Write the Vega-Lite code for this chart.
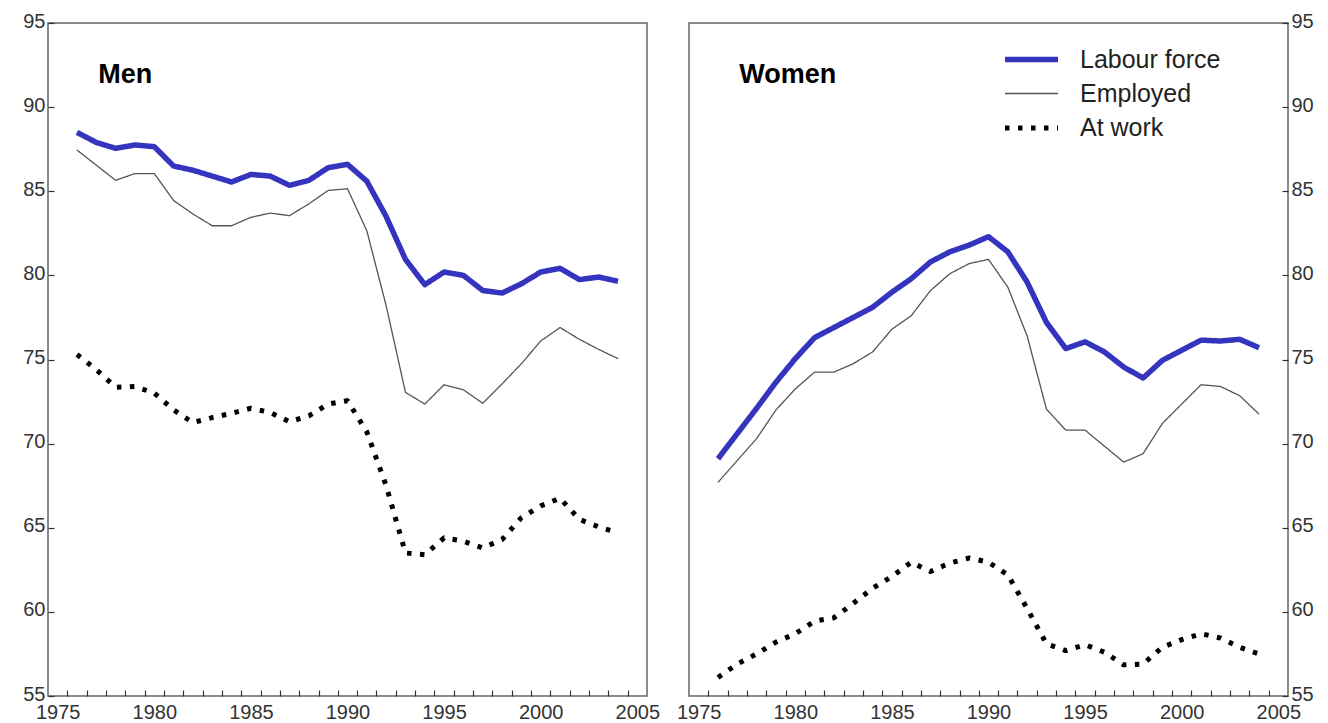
{
  "$schema": "https://vega.github.io/schema/vega-lite/v6.json",
  "padding": {"left": 22, "top": 10, "right": 5, "bottom": 0},
  "background": "white",
  "bounds": "flush",
  "spacing": 42,
  "config": {
    "font": "Liberation Sans",
    "view": {"stroke": "#666666", "strokeWidth": 1.5},
    "axis": {"domain": false, "grid": false, "labelFontSize": 20, "labelColor": "#333333", "tickColor": "#333333", "tickSize": -6, "tickWidth": 1.2, "labelPadding": 9, "title": null, "labelOverlap": false},
    "legend": {"orient": "none", "legendX": 954, "legendY": 23.5, "title": null, "padding": 0, "symbolType": "M-1,0H4.3", "symbolSize": 400, "labelFontSize": 25, "labelColor": "#222222", "labelOffset": 52, "rowPadding": 8.5, "labelLimit": 300}
  },
  "datasets": {
    "d": [
      {"sex":"Men","series":"Labour force","year":1976,"value":88.5},
      {"sex":"Men","series":"Labour force","year":1977,"value":87.9},
      {"sex":"Men","series":"Labour force","year":1978,"value":87.55},
      {"sex":"Men","series":"Labour force","year":1979,"value":87.75},
      {"sex":"Men","series":"Labour force","year":1980,"value":87.65},
      {"sex":"Men","series":"Labour force","year":1981,"value":86.5},
      {"sex":"Men","series":"Labour force","year":1982,"value":86.25},
      {"sex":"Men","series":"Labour force","year":1983,"value":85.9},
      {"sex":"Men","series":"Labour force","year":1984,"value":85.55},
      {"sex":"Men","series":"Labour force","year":1985,"value":86.0},
      {"sex":"Men","series":"Labour force","year":1986,"value":85.9},
      {"sex":"Men","series":"Labour force","year":1987,"value":85.35},
      {"sex":"Men","series":"Labour force","year":1988,"value":85.65},
      {"sex":"Men","series":"Labour force","year":1989,"value":86.4},
      {"sex":"Men","series":"Labour force","year":1990,"value":86.6},
      {"sex":"Men","series":"Labour force","year":1991,"value":85.6},
      {"sex":"Men","series":"Labour force","year":1992,"value":83.5},
      {"sex":"Men","series":"Labour force","year":1993,"value":80.95},
      {"sex":"Men","series":"Labour force","year":1994,"value":79.45},
      {"sex":"Men","series":"Labour force","year":1995,"value":80.2},
      {"sex":"Men","series":"Labour force","year":1996,"value":80.0},
      {"sex":"Men","series":"Labour force","year":1997,"value":79.1},
      {"sex":"Men","series":"Labour force","year":1998,"value":78.95},
      {"sex":"Men","series":"Labour force","year":1999,"value":79.5},
      {"sex":"Men","series":"Labour force","year":2000,"value":80.2},
      {"sex":"Men","series":"Labour force","year":2001,"value":80.42},
      {"sex":"Men","series":"Labour force","year":2002,"value":79.75},
      {"sex":"Men","series":"Labour force","year":2003,"value":79.9},
      {"sex":"Men","series":"Labour force","year":2004,"value":79.65},
      {"sex":"Men","series":"Employed","year":1976,"value":87.45},
      {"sex":"Men","series":"Employed","year":1977,"value":86.55},
      {"sex":"Men","series":"Employed","year":1978,"value":85.65},
      {"sex":"Men","series":"Employed","year":1979,"value":86.05},
      {"sex":"Men","series":"Employed","year":1980,"value":86.05},
      {"sex":"Men","series":"Employed","year":1981,"value":84.45},
      {"sex":"Men","series":"Employed","year":1982,"value":83.65},
      {"sex":"Men","series":"Employed","year":1983,"value":82.95},
      {"sex":"Men","series":"Employed","year":1984,"value":82.95},
      {"sex":"Men","series":"Employed","year":1985,"value":83.45},
      {"sex":"Men","series":"Employed","year":1986,"value":83.7},
      {"sex":"Men","series":"Employed","year":1987,"value":83.55},
      {"sex":"Men","series":"Employed","year":1988,"value":84.25},
      {"sex":"Men","series":"Employed","year":1989,"value":85.05},
      {"sex":"Men","series":"Employed","year":1990,"value":85.15},
      {"sex":"Men","series":"Employed","year":1991,"value":82.65},
      {"sex":"Men","series":"Employed","year":1992,"value":78.2},
      {"sex":"Men","series":"Employed","year":1993,"value":73.05},
      {"sex":"Men","series":"Employed","year":1994,"value":72.35},
      {"sex":"Men","series":"Employed","year":1995,"value":73.5},
      {"sex":"Men","series":"Employed","year":1996,"value":73.2},
      {"sex":"Men","series":"Employed","year":1997,"value":72.4},
      {"sex":"Men","series":"Employed","year":1998,"value":73.55},
      {"sex":"Men","series":"Employed","year":1999,"value":74.75},
      {"sex":"Men","series":"Employed","year":2000,"value":76.1},
      {"sex":"Men","series":"Employed","year":2001,"value":76.9},
      {"sex":"Men","series":"Employed","year":2002,"value":76.2},
      {"sex":"Men","series":"Employed","year":2003,"value":75.6},
      {"sex":"Men","series":"Employed","year":2004,"value":75.05},
      {"sex":"Men","series":"At work","year":1976,"value":75.3},
      {"sex":"Men","series":"At work","year":1977,"value":74.4},
      {"sex":"Men","series":"At work","year":1978,"value":73.35},
      {"sex":"Men","series":"At work","year":1979,"value":73.4},
      {"sex":"Men","series":"At work","year":1980,"value":73.0},
      {"sex":"Men","series":"At work","year":1981,"value":72.0},
      {"sex":"Men","series":"At work","year":1982,"value":71.25},
      {"sex":"Men","series":"At work","year":1983,"value":71.55},
      {"sex":"Men","series":"At work","year":1984,"value":71.8},
      {"sex":"Men","series":"At work","year":1985,"value":72.1},
      {"sex":"Men","series":"At work","year":1986,"value":71.85},
      {"sex":"Men","series":"At work","year":1987,"value":71.3},
      {"sex":"Men","series":"At work","year":1988,"value":71.65},
      {"sex":"Men","series":"At work","year":1989,"value":72.35},
      {"sex":"Men","series":"At work","year":1990,"value":72.55},
      {"sex":"Men","series":"At work","year":1991,"value":70.7},
      {"sex":"Men","series":"At work","year":1992,"value":67.5},
      {"sex":"Men","series":"At work","year":1993,"value":63.5},
      {"sex":"Men","series":"At work","year":1994,"value":63.4},
      {"sex":"Men","series":"At work","year":1995,"value":64.4},
      {"sex":"Men","series":"At work","year":1996,"value":64.2},
      {"sex":"Men","series":"At work","year":1997,"value":63.8},
      {"sex":"Men","series":"At work","year":1998,"value":64.3},
      {"sex":"Men","series":"At work","year":1999,"value":65.6},
      {"sex":"Men","series":"At work","year":2000,"value":66.3},
      {"sex":"Men","series":"At work","year":2001,"value":66.75},
      {"sex":"Men","series":"At work","year":2002,"value":65.5},
      {"sex":"Men","series":"At work","year":2003,"value":65.05},
      {"sex":"Men","series":"At work","year":2004,"value":64.7},
      {"sex":"Women","series":"Labour force","year":1976,"value":69.1},
      {"sex":"Women","series":"Labour force","year":1977,"value":70.6},
      {"sex":"Women","series":"Labour force","year":1978,"value":72.1},
      {"sex":"Women","series":"Labour force","year":1979,"value":73.65},
      {"sex":"Women","series":"Labour force","year":1980,"value":75.05},
      {"sex":"Women","series":"Labour force","year":1981,"value":76.3},
      {"sex":"Women","series":"Labour force","year":1982,"value":76.9},
      {"sex":"Women","series":"Labour force","year":1983,"value":77.5},
      {"sex":"Women","series":"Labour force","year":1984,"value":78.1},
      {"sex":"Women","series":"Labour force","year":1985,"value":79.0},
      {"sex":"Women","series":"Labour force","year":1986,"value":79.8},
      {"sex":"Women","series":"Labour force","year":1987,"value":80.8},
      {"sex":"Women","series":"Labour force","year":1988,"value":81.4},
      {"sex":"Women","series":"Labour force","year":1989,"value":81.8},
      {"sex":"Women","series":"Labour force","year":1990,"value":82.3},
      {"sex":"Women","series":"Labour force","year":1991,"value":81.4},
      {"sex":"Women","series":"Labour force","year":1992,"value":79.6},
      {"sex":"Women","series":"Labour force","year":1993,"value":77.2},
      {"sex":"Women","series":"Labour force","year":1994,"value":75.65},
      {"sex":"Women","series":"Labour force","year":1995,"value":76.05},
      {"sex":"Women","series":"Labour force","year":1996,"value":75.45},
      {"sex":"Women","series":"Labour force","year":1997,"value":74.55},
      {"sex":"Women","series":"Labour force","year":1998,"value":73.9},
      {"sex":"Women","series":"Labour force","year":1999,"value":74.95},
      {"sex":"Women","series":"Labour force","year":2000,"value":75.55},
      {"sex":"Women","series":"Labour force","year":2001,"value":76.15},
      {"sex":"Women","series":"Labour force","year":2002,"value":76.1},
      {"sex":"Women","series":"Labour force","year":2003,"value":76.2},
      {"sex":"Women","series":"Labour force","year":2004,"value":75.7},
      {"sex":"Women","series":"Employed","year":1976,"value":67.7},
      {"sex":"Women","series":"Employed","year":1977,"value":69.0},
      {"sex":"Women","series":"Employed","year":1978,"value":70.3},
      {"sex":"Women","series":"Employed","year":1979,"value":72.0},
      {"sex":"Women","series":"Employed","year":1980,"value":73.25},
      {"sex":"Women","series":"Employed","year":1981,"value":74.25},
      {"sex":"Women","series":"Employed","year":1982,"value":74.25},
      {"sex":"Women","series":"Employed","year":1983,"value":74.75},
      {"sex":"Women","series":"Employed","year":1984,"value":75.45},
      {"sex":"Women","series":"Employed","year":1985,"value":76.8},
      {"sex":"Women","series":"Employed","year":1986,"value":77.6},
      {"sex":"Women","series":"Employed","year":1987,"value":79.1},
      {"sex":"Women","series":"Employed","year":1988,"value":80.1},
      {"sex":"Women","series":"Employed","year":1989,"value":80.7},
      {"sex":"Women","series":"Employed","year":1990,"value":80.95},
      {"sex":"Women","series":"Employed","year":1991,"value":79.3},
      {"sex":"Women","series":"Employed","year":1992,"value":76.4},
      {"sex":"Women","series":"Employed","year":1993,"value":72.05},
      {"sex":"Women","series":"Employed","year":1994,"value":70.8},
      {"sex":"Women","series":"Employed","year":1995,"value":70.8},
      {"sex":"Women","series":"Employed","year":1996,"value":69.85},
      {"sex":"Women","series":"Employed","year":1997,"value":68.9},
      {"sex":"Women","series":"Employed","year":1998,"value":69.4},
      {"sex":"Women","series":"Employed","year":1999,"value":71.2},
      {"sex":"Women","series":"Employed","year":2000,"value":72.35},
      {"sex":"Women","series":"Employed","year":2001,"value":73.5},
      {"sex":"Women","series":"Employed","year":2002,"value":73.4},
      {"sex":"Women","series":"Employed","year":2003,"value":72.85},
      {"sex":"Women","series":"Employed","year":2004,"value":71.75},
      {"sex":"Women","series":"At work","year":1976,"value":56.1},
      {"sex":"Women","series":"At work","year":1977,"value":56.9},
      {"sex":"Women","series":"At work","year":1978,"value":57.5},
      {"sex":"Women","series":"At work","year":1979,"value":58.2},
      {"sex":"Women","series":"At work","year":1980,"value":58.7},
      {"sex":"Women","series":"At work","year":1981,"value":59.45},
      {"sex":"Women","series":"At work","year":1982,"value":59.65},
      {"sex":"Women","series":"At work","year":1983,"value":60.5},
      {"sex":"Women","series":"At work","year":1984,"value":61.4},
      {"sex":"Women","series":"At work","year":1985,"value":62.1},
      {"sex":"Women","series":"At work","year":1986,"value":62.95},
      {"sex":"Women","series":"At work","year":1987,"value":62.4},
      {"sex":"Women","series":"At work","year":1988,"value":62.9},
      {"sex":"Women","series":"At work","year":1989,"value":63.2},
      {"sex":"Women","series":"At work","year":1990,"value":62.95},
      {"sex":"Women","series":"At work","year":1991,"value":62.2},
      {"sex":"Women","series":"At work","year":1992,"value":60.2},
      {"sex":"Women","series":"At work","year":1993,"value":58.1},
      {"sex":"Women","series":"At work","year":1994,"value":57.7},
      {"sex":"Women","series":"At work","year":1995,"value":58.05},
      {"sex":"Women","series":"At work","year":1996,"value":57.6},
      {"sex":"Women","series":"At work","year":1997,"value":56.85},
      {"sex":"Women","series":"At work","year":1998,"value":56.9},
      {"sex":"Women","series":"At work","year":1999,"value":57.9},
      {"sex":"Women","series":"At work","year":2000,"value":58.35},
      {"sex":"Women","series":"At work","year":2001,"value":58.7},
      {"sex":"Women","series":"At work","year":2002,"value":58.45},
      {"sex":"Women","series":"At work","year":2003,"value":57.9},
      {"sex":"Women","series":"At work","year":2004,"value":57.5}
    ]
  },
  "hconcat": [
    {
      "width": 599,
      "height": 673,
      "layer": [
        {
          "data": {"name": "d"},
          "transform": [{"filter": "datum.sex === 'Men'"}],
          "mark": {"type": "line", "strokeJoin": "round", "strokeCap": "butt"},
          "encoding": {
            "x": {"field": "year", "type": "quantitative", "scale": {"domain": [1974.5, 2005.5], "nice": false, "zero": false},
              "axis": {"values": [1975,1975.5,1976.5,1977.5,1978.5,1979.5,1980,1980.5,1981.5,1982.5,1983.5,1984.5,1985,1985.5,1986.5,1987.5,1988.5,1989.5,1990,1990.5,1991.5,1992.5,1993.5,1994.5,1995,1995.5,1996.5,1997.5,1998.5,1999.5,2000,2000.5,2001.5,2002.5,2003.5,2004.5,2005],
                "labelExpr": "datum.value % 5 === 0 ? format(datum.value, 'd') : ''", "labelOverlap": false, "labelFlush": false, "labelPadding": 12,
                "tickOpacity": {"condition": {"test": "datum.value % 1 === 0", "value": 0}, "value": 1}}},
            "y": {"field": "value", "type": "quantitative", "scale": {"domain": [55, 95], "nice": false, "zero": false},
              "axis": {"orient": "left", "values": [55,60,65,70,75,80,85,90,95], "labelOverlap": false, "labelOffset": -2}},
            "color": {"field": "series", "type": "nominal", "scale": {"domain": ["Labour force", "Employed", "At work"], "range": ["#3434bf", "#555555", "#000000"]}},
            "strokeWidth": {"field": "series", "type": "nominal", "scale": {"type": "ordinal", "domain": ["Labour force", "Employed", "At work"], "range": [5.5, 1.3, 5]}},
            "strokeDash": {"field": "series", "type": "nominal", "scale": {"domain": ["Labour force", "Employed", "At work"], "range": [[1, 0], [1, 0], [4.5, 8.5]]}}
          }
        },
        {
          "data": {"values": [{"label": "Men"}]},
          "mark": {"type": "text", "align": "left", "baseline": "middle", "fontSize": 27, "fontWeight": "bold", "color": "#000000"},
          "encoding": {
            "x": {"datum": 1977.1, "type": "quantitative",
              "axis": {"values": [1975,1975.5,1976.5,1977.5,1978.5,1979.5,1980,1980.5,1981.5,1982.5,1983.5,1984.5,1985,1985.5,1986.5,1987.5,1988.5,1989.5,1990,1990.5,1991.5,1992.5,1993.5,1994.5,1995,1995.5,1996.5,1997.5,1998.5,1999.5,2000,2000.5,2001.5,2002.5,2003.5,2004.5,2005],
                "labelExpr": "datum.value % 5 === 0 ? format(datum.value, 'd') : ''", "labelOverlap": false, "labelFlush": false, "labelPadding": 12,
                "tickOpacity": {"condition": {"test": "datum.value % 1 === 0", "value": 0}, "value": 1}}},
            "y": {"datum": 91.9, "type": "quantitative",
              "axis": {"orient": "left", "values": [55,60,65,70,75,80,85,90,95], "labelOverlap": false, "labelOffset": -2}},
            "text": {"field": "label"}
          }
        }
      ]
    },
    {
      "width": 599,
      "height": 673,
      "layer": [
        {
          "data": {"name": "d"},
          "transform": [{"filter": "datum.sex === 'Women'"}],
          "mark": {"type": "line", "strokeJoin": "round", "strokeCap": "butt"},
          "encoding": {
            "x": {"field": "year", "type": "quantitative", "scale": {"domain": [1974.5, 2005.5], "nice": false, "zero": false},
              "axis": {"values": [1975,1975.5,1976.5,1977.5,1978.5,1979.5,1980,1980.5,1981.5,1982.5,1983.5,1984.5,1985,1985.5,1986.5,1987.5,1988.5,1989.5,1990,1990.5,1991.5,1992.5,1993.5,1994.5,1995,1995.5,1996.5,1997.5,1998.5,1999.5,2000,2000.5,2001.5,2002.5,2003.5,2004.5,2005],
                "labelExpr": "datum.value % 5 === 0 ? format(datum.value, 'd') : ''", "labelOverlap": false, "labelFlush": false, "labelPadding": 12,
                "tickOpacity": {"condition": {"test": "datum.value % 1 === 0", "value": 0}, "value": 1}}},
            "y": {"field": "value", "type": "quantitative", "scale": {"domain": [55, 95], "nice": false, "zero": false},
              "axis": {"orient": "right", "values": [55,60,65,70,75,80,85,90,95], "labelOverlap": false, "labelOffset": -2}},
            "color": {"field": "series", "type": "nominal", "scale": {"domain": ["Labour force", "Employed", "At work"], "range": ["#3434bf", "#555555", "#000000"]}},
            "strokeWidth": {"field": "series", "type": "nominal", "scale": {"type": "ordinal", "domain": ["Labour force", "Employed", "At work"], "range": [5.5, 1.3, 5]}},
            "strokeDash": {"field": "series", "type": "nominal", "scale": {"domain": ["Labour force", "Employed", "At work"], "range": [[1, 0], [1, 0], [4.5, 8.5]]}}
          }
        },
        {
          "data": {"values": [{"label": "Women"}]},
          "mark": {"type": "text", "align": "left", "baseline": "middle", "fontSize": 27, "fontWeight": "bold", "color": "#000000"},
          "encoding": {
            "x": {"datum": 1977.1, "type": "quantitative",
              "axis": {"values": [1975,1975.5,1976.5,1977.5,1978.5,1979.5,1980,1980.5,1981.5,1982.5,1983.5,1984.5,1985,1985.5,1986.5,1987.5,1988.5,1989.5,1990,1990.5,1991.5,1992.5,1993.5,1994.5,1995,1995.5,1996.5,1997.5,1998.5,1999.5,2000,2000.5,2001.5,2002.5,2003.5,2004.5,2005],
                "labelExpr": "datum.value % 5 === 0 ? format(datum.value, 'd') : ''", "labelOverlap": false, "labelFlush": false, "labelPadding": 12,
                "tickOpacity": {"condition": {"test": "datum.value % 1 === 0", "value": 0}, "value": 1}}},
            "y": {"datum": 91.9, "type": "quantitative",
              "axis": {"orient": "right", "values": [55,60,65,70,75,80,85,90,95], "labelOverlap": false, "labelOffset": -2}},
            "text": {"field": "label"}
          }
        }
      ]
    }
  ]
}
